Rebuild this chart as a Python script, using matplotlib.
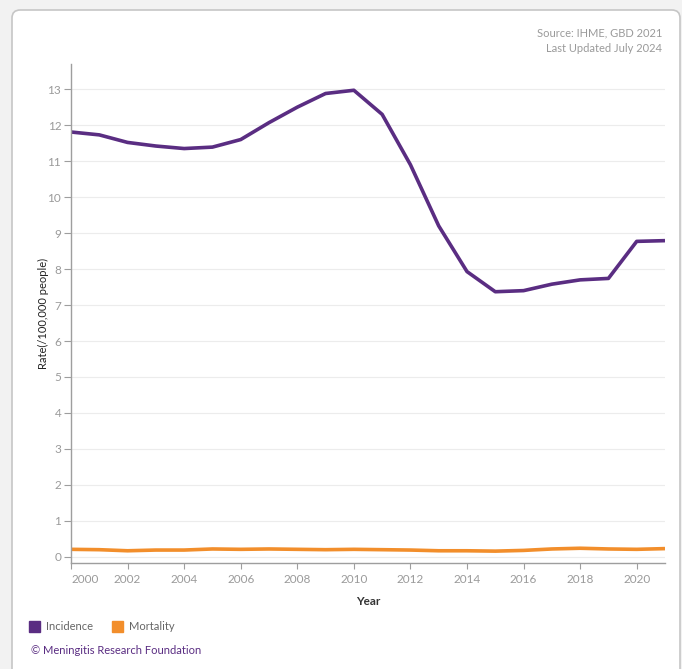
import matplotlib.pyplot as plt
from matplotlib.patches import FancyBboxPatch

plt.rcParams['font.family'] = ['Lato', 'DejaVu Sans']

years = list(range(2000, 2022))
incidence = [11.81, 11.73, 11.52, 11.42, 11.35, 11.39, 11.6, 12.07, 12.5, 12.88, 12.97, 12.3,
             10.9, 9.2, 7.93, 7.37, 7.4, 7.58, 7.7, 7.74, 8.77, 8.79]
mortality = [0.21, 0.2, 0.17, 0.19, 0.19, 0.22, 0.21, 0.22, 0.21, 0.2, 0.21, 0.2,
             0.19, 0.17, 0.17, 0.16, 0.18, 0.22, 0.24, 0.22, 0.21, 0.23]
x_ticks = list(range(2000, 2021, 2))
y_ticks = list(range(0, 14))

purple = '#5a2d82'
orange = '#f28e2b'
grey_txt = '#9a9a9a'

fig = plt.figure(figsize=(6.82, 6.69), dpi=100)
fig.patch.set_facecolor('#f2f2f2')

# carte blanche (derrière les axes)
card = FancyBboxPatch((12 / 682, -0.05), 668 / 682, (669 - 10) / 669 + 0.05,
                      boxstyle='round,pad=0,rounding_size=0.012',
                      transform=fig.transFigure, facecolor='white',
                      edgecolor='#c6c6c6', linewidth=1.2, zorder=-10)
fig.patches.append(card)

ax = fig.add_axes([71 / 682, 1 - 563 / 669, 594 / 682, (563 - 64) / 669])
ax.set_facecolor('none')

ax.plot(years, incidence, color=purple, linewidth=2.6, solid_capstyle='butt')
ax.plot(years, mortality, color=orange, linewidth=2.6, solid_capstyle='butt')

ax.set_xlim(2000, 2021)
ax.set_ylim(-0.17, 13.7)
ax.set_xticks(x_ticks)
ax.set_yticks(y_ticks)
ax.grid(axis='y', color='#ececec', linewidth=0.8)
ax.set_axisbelow(True)

for s in ['top', 'right']:
    ax.spines[s].set_visible(False)
for s in ['left', 'bottom']:
    ax.spines[s].set_color('#9e9e9e')
    ax.spines[s].set_linewidth(1)

ax.tick_params(axis='y', length=5, color='#9e9e9e', labelcolor=grey_txt, labelsize=8.5, pad=2)
ax.tick_params(axis='x', length=4, color='#9e9e9e', labelcolor=grey_txt, labelsize=8.5, pad=4)
# premier label décalé à droite (comme Tableau)
ax.get_xticklabels()[0].set_horizontalalignment('left')

ax.set_ylabel('Rate(/100,000 people)', fontsize=8, color='#222222')
ax.yaxis.set_label_coords(-(71 - 49) / 594, 0.5)
ax.set_xlabel('Year', fontsize=8.5, color='#333333', fontweight='bold', labelpad=8)

fig.text(662 / 682, 1 - 33 / 669, 'Source: IHME, GBD 2021', ha='right', va='center',
         fontsize=8, color=grey_txt)
fig.text(662 / 682, 1 - 49 / 669, 'Last Updated July 2024', ha='right', va='center',
         fontsize=8, color=grey_txt)

# légende
fig.patches.append(plt.Rectangle((29 / 682, 1 - 632 / 669), 11 / 682, 11 / 669,
                                 transform=fig.transFigure, color=purple))
fig.text(46 / 682, 1 - 627 / 669, 'Incidence', va='center', fontsize=8, color='#666666')
fig.patches.append(plt.Rectangle((112 / 682, 1 - 632 / 669), 11 / 682, 11 / 669,
                                 transform=fig.transFigure, color=orange))
fig.text(129 / 682, 1 - 627 / 669, 'Mortality', va='center', fontsize=8, color='#666666')

fig.text(31 / 682, 1 - 650 / 669, '© Meningitis Research Foundation', va='center',
         fontsize=8, color=purple)

fig.savefig('out.png', dpi=100, facecolor=fig.get_facecolor())
